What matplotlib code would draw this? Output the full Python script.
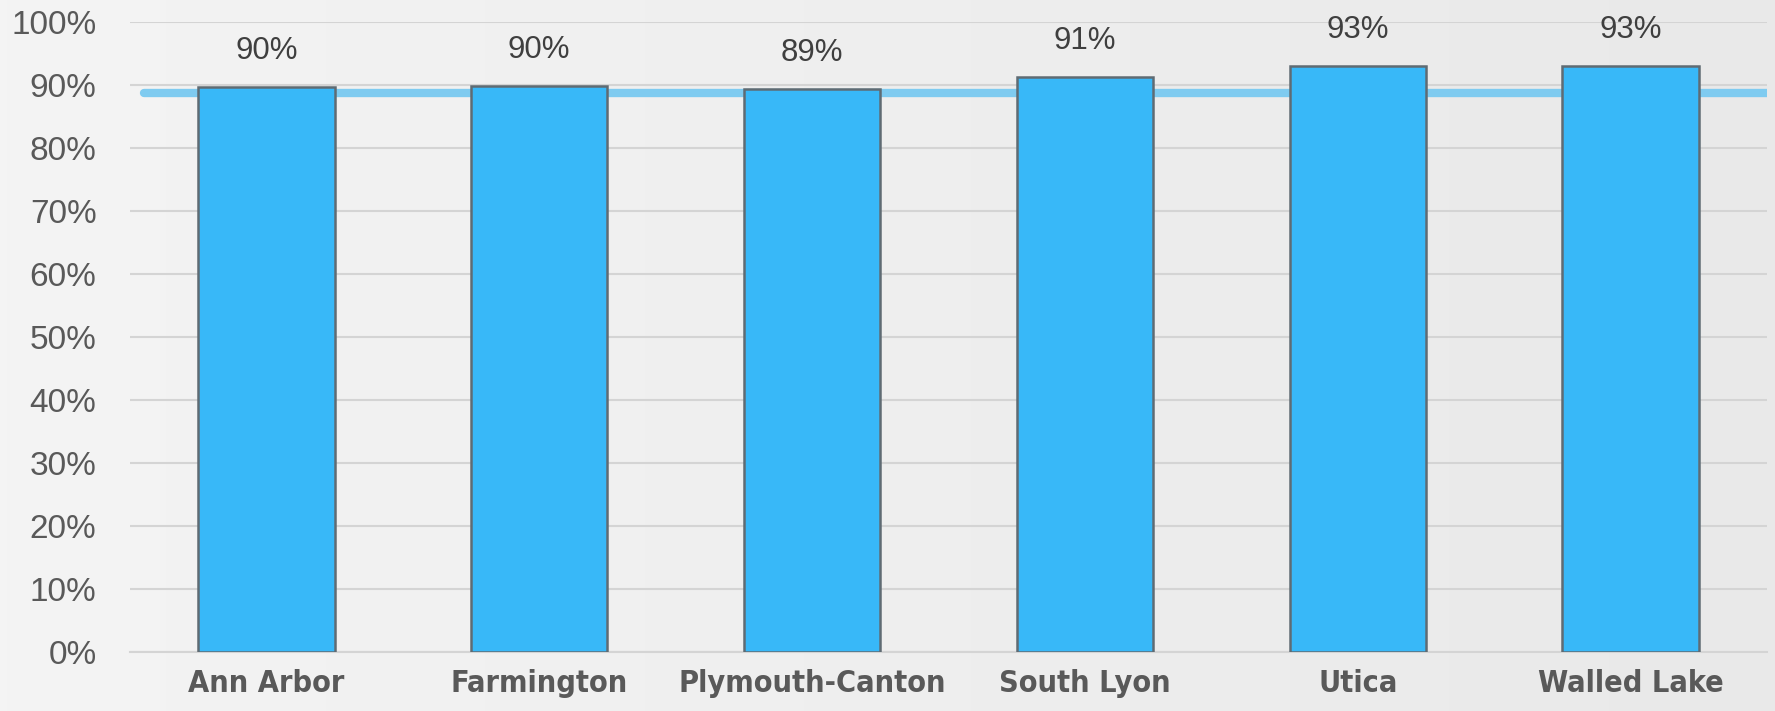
import numpy as np
import matplotlib
matplotlib.use("Agg")
import matplotlib.pyplot as plt
from matplotlib.ticker import PercentFormatter

# data
sites = ["Ann Arbor", "Farmington", "Plymouth-Canton", "South Lyon", "Utica", "Walled Lake"]
rates = [0.897, 0.898, 0.894, 0.913, 0.930, 0.930]
target = 0.887

fig = plt.figure(figsize=(17.75, 7.11), dpi=100)

# soft grey gradient behind everything
bg = fig.add_axes([0, 0, 1, 1], zorder=-10)
grad = np.linspace(0, 1, 256).reshape(1, -1)
bg.imshow(grad, aspect="auto", cmap=matplotlib.colors.LinearSegmentedColormap.from_list(
    "bg", ["#f4f4f4", "#e9e9e9"]), extent=[0, 1, 0, 1])
bg.axis("off")

ax = fig.add_axes([0.0732, 0.083, 0.9223, 0.886])
ax.patch.set_alpha(0)

x = np.arange(len(sites))
ax.bar(x, rates, width=0.5, color="#38b8f8", edgecolor="#5f6b73",
       linewidth=1.8, zorder=3)

for xi, r in zip(x, rates):
    ax.annotate(f"{r:.0%}", (xi, r), textcoords="offset points", xytext=(0, 15),
                ha="center", va="bottom", fontsize=22.5, color="#3f3f3f",
                family=["Liberation Sans", "DejaVu Sans"])

ax.plot([-0.45, 5.5], [target, target], color="#7fcbf0", linewidth=6,
        solid_capstyle="round", zorder=2)

ax.set_xlim(-0.5, 5.5)
ax.set_ylim(0, 1.0)
ax.set_yticks(np.arange(0, 1.01, 0.1))
ax.yaxis.set_major_formatter(PercentFormatter(1.0, decimals=0))
ax.grid(axis="y", color="#d4d4d4", linewidth=1.5, zorder=0)
ax.set_axisbelow(True)

ax.set_xticks(x)
ax.set_xticklabels(sites, fontsize=22, fontweight="bold", color="#595959",
                   family=["Liberation Sans Narrow", "DejaVu Sans"],
                   fontstretch="condensed")
for lbl in ax.get_yticklabels():
    lbl.set_fontsize(24)
    lbl.set_color("#595959")
    lbl.set_family(["Liberation Sans", "DejaVu Sans"])

ax.tick_params(axis="both", length=0)
ax.tick_params(axis="y", pad=24)
ax.tick_params(axis="x", pad=12)
for s in ["top", "right", "left"]:
    ax.spines[s].set_visible(False)
ax.spines["bottom"].set_color("#d4d4d4")
ax.spines["bottom"].set_linewidth(1.5)

fig.savefig("out.png", dpi=100)
